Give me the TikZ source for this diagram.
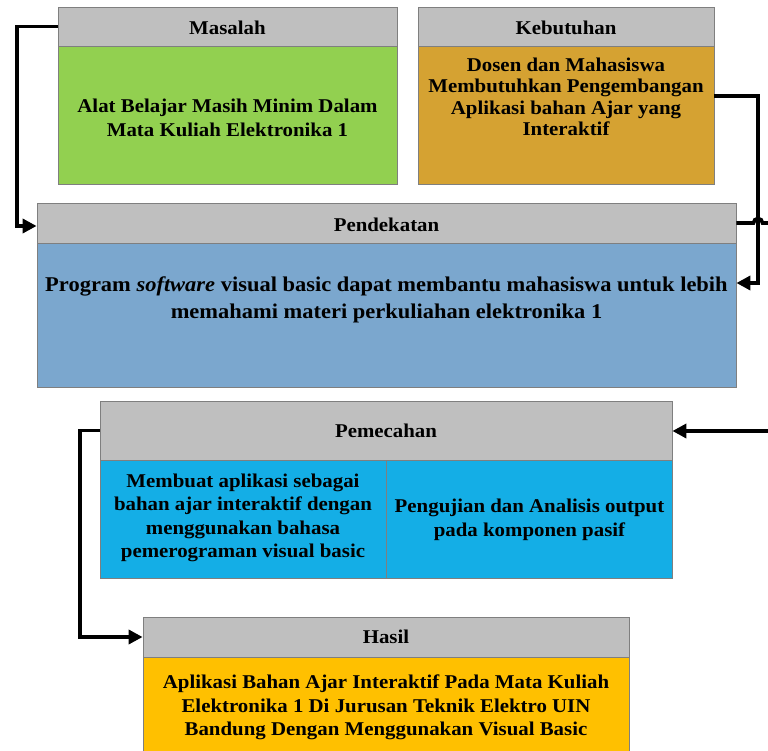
\documentclass[tikz,border=0pt]{standalone}
\usepackage{fontspec}
\setmainfont[FakeStretch=1.07]{Liberation Serif}
\usetikzlibrary{arrows.meta}
\definecolor{hdr}{HTML}{BFBFBF}
\definecolor{brd}{HTML}{7F7F7F}
\definecolor{green1}{HTML}{92D050}
\definecolor{gold1}{HTML}{D5A232}
\definecolor{blue1}{HTML}{7BA7CE}
\definecolor{cyan1}{HTML}{14AEE6}
\definecolor{amber1}{HTML}{FFC000}
\tikzset{
  box/.style={draw=brd, line width=0.8pt, inner sep=0pt, rectangle},
  hdrbox/.style={box, fill=hdr},
  txt/.style={align=center, inner sep=0pt, text=black, font=\bfseries\fontsize{19.5}{#1}\selectfont},
  bigtxt/.style={align=center, inner sep=0pt, text=black, font=\bfseries\fontsize{21}{#1}\selectfont},
  conn/.style={line width=3.6pt, line join=miter},
  arr/.style={conn, -{Triangle[length=14pt,width=14pt]}}
}
\begin{document}
\begin{tikzpicture}[x=1pt,y=-1pt]
\useasboundingbox (0,0) rectangle (768,751);
\clip (0,0) rectangle (768,751);
\fill[white] (0,0) rectangle (768,751);
% Masalah
\node[hdrbox, minimum width=339pt, minimum height=39pt] (masH) at (227.5,26.5) {};
\node[box, fill=green1, minimum width=339pt, minimum height=138pt] (masB) at (227.5,115) {};
\node[txt=24pt] (masHt) at (227.5,27.5) {Masalah};
\node[txt=24pt] (masBt) at (227.5,118) {Alat Belajar Masih Minim Dalam\\Mata Kuliah Elektronika 1};
% Kebutuhan
\node[hdrbox, minimum width=296pt, minimum height=39pt] (kebH) at (566,26.5) {};
\node[box, fill=gold1, minimum width=296pt, minimum height=138pt] (kebB) at (566,115) {};
\node[txt=21pt] (kebHt) at (566,27.5) {Kebutuhan};
\node[txt=21.5pt] (kebBt) at (566,97) {Dosen dan Mahasiswa\\Membutuhkan Pengembangan\\Aplikasi bahan Ajar yang\\Interaktif};
% Pendekatan
\node[hdrbox, minimum width=699pt, minimum height=40pt] (pendH) at (386.5,223) {};
\node[box, fill=blue1, minimum width=699pt, minimum height=144pt] (pendB) at (386.5,315) {};
\node[txt=28pt] (pendHt) at (386.5,224.5) {Pendekatan};
\node[bigtxt=27pt] (pendBt) at (386.5,299.5) {Program \textit{software} visual basic dapat membantu mahasiswa untuk lebih\\memahami materi perkuliahan elektronika 1};
% Pemecahan
\node[hdrbox, minimum width=572pt, minimum height=59pt] (pemH) at (386,430.5) {};
\node[box, fill=cyan1, minimum width=286pt, minimum height=118pt] (pemL) at (243,519) {};
\node[box, fill=cyan1, minimum width=286pt, minimum height=118pt] (pemR) at (529,519) {};
\node[txt=24pt] (pemHt) at (386,431) {Pemecahan};
\node[txt=23.3pt] (pemLt) at (243,518) {Membuat aplikasi sebagai\\bahan ajar interaktif dengan\\menggunakan bahasa\\pemerograman visual basic};
\node[txt=23.5pt] (pemRt) at (529.5,520) {Pengujian dan Analisis output\\pada komponen pasif};
% Hasil
\node[hdrbox, minimum width=486pt, minimum height=40pt] (hasH) at (386,637) {};
\node[box, fill=amber1, minimum width=486pt, minimum height=110pt] (hasB) at (386,712) {};
\node[txt=23pt] (hasHt) at (386,637) {Hasil};
\node[txt=23.5pt] (hasBt) at (386,707.5) {Aplikasi Bahan Ajar Interaktif Pada Mata Kuliah\\Elektronika 1 Di Jurusan Teknik Elektro UIN\\Bandung Dengan Menggunakan Visual Basic};
% connectors
\coordinate (c1) at (17,0);
\draw[arr] (masH.west) -| (c1 |- 0,226) -- ([yshift=-3pt]pendH.west);
\coordinate (c2) at (758,0);
\draw[arr] ([yshift=19pt]kebB.east) -| (c2 |- 0,283) -- ([yshift=32pt]pendB.east);
\coordinate (c3) at (768,223);
\draw[conn] (pendH.east) -- (753.5,223) arc[start angle=180, end angle=0, radius=4.5pt] -- (c3);
\coordinate (c4) at (768,431);
\draw[arr] (c4) -- ([yshift=-0.5pt]pemH.east);
\coordinate (c5) at (80,0);
\draw[arr] (pemH.west) -| (c5 |- hasH.west) -- (hasH.west);
\end{tikzpicture}
\end{document}
